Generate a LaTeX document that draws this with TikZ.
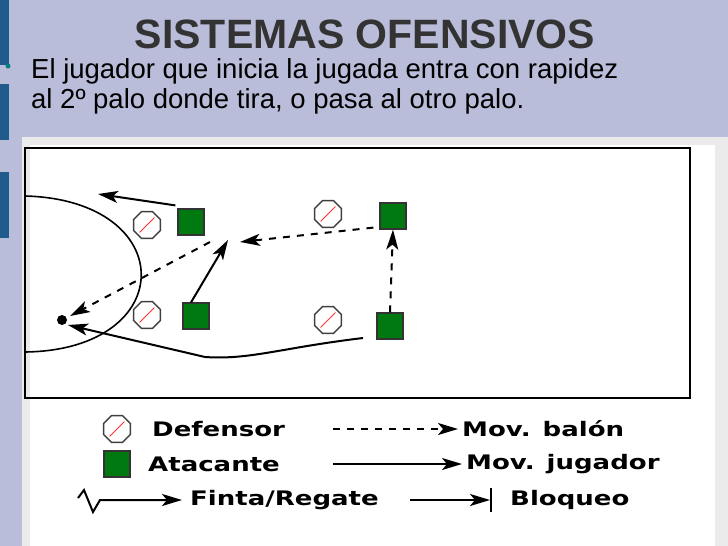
\documentclass[tikz,border=0pt]{standalone}
\usepackage{fontspec}
\setmainfont{Liberation Sans}
\newfontfamily\legfont{DejaVu Sans}
\usetikzlibrary{arrows.meta,shapes.geometric}
\definecolor{bg}{HTML}{B9BDD9}
\definecolor{barblue}{HTML}{1F5A8C}
\definecolor{grn}{HTML}{007A10}
\newcommand{\lgt}[1]{\scalebox{1.3}[1]{#1}}
\tikzset{
 ah/.style={-{Stealth[length=20pt,width=12pt,inset=5pt]}},
 mv/.style={line width=2pt,ah},
 bal/.style={line width=2pt,dash pattern=on 7pt off 7pt,ah},
 defn/.style={regular polygon,regular polygon sides=8,draw=black!75,line width=1.4pt,minimum size=29pt,inner sep=0pt,fill=white,
   path picture={\draw[red!80!white,line width=1pt] (path picture bounding box.south west)++(6pt,6pt) -- ([shift={(-6pt,-6pt)}]path picture bounding box.north east);}},
 att/.style={rectangle,draw=black!80,fill=grn,line width=1.2pt,minimum size=26pt,inner sep=0pt},
 lg/.style={font=\legfont\bfseries\fontsize{20}{22}\selectfont,anchor=west,inner sep=0pt}
}
\begin{document}
\begin{tikzpicture}[x=1pt,y=-1pt]
\fill[bg] (0,0) rectangle (728,546);
\useasboundingbox (0,0) rectangle (728,546);
\fill[barblue] (0,0) rectangle (9,65);
\fill[barblue] (0,84) rectangle (9,140);
\fill[barblue] (0,172) rectangle (9,238);
\fill[black!8] (22,137) rectangle (728,546);
\fill[white] (30,145) rectangle (715,546);
\node[font=\bfseries\fontsize{41}{44}\selectfont,text=black!80] (title) at (365,34) {SISTEMAS OFENSIVOS};
\fill[teal] (8,66) circle (2.5pt);
\node[anchor=west,font=\fontsize{27.5}{30}\selectfont,align=left,inner sep=0pt] (txt) at (31,86) {El jugador que inicia la jugada entra con rapidez\\al 2º palo donde tira, o pasa al otro palo.};
% court
\draw[line width=2pt] (25,148) rectangle (690,398);
\draw[line width=1.6pt] (25,196) .. controls (180,200) and (180,350) .. (25,352);
\node[defn] (d1) at (147,225) {};
\node[defn] (d2) at (147,315) {};
\node[defn] (d3) at (328,214) {};
\node[defn] (d4) at (328,320) {};
\node[att] (a1) at (191,222) {};
\node[att] (a2) at (196,316) {};
\node[att] (a3) at (393,216) {};
\node[att] (a4) at (390,326) {};
\fill (62,320) circle (5pt) coordinate (ball);
\coordinate (p1) at (98,194);
\coordinate (p2) at (228,240);
\path (a1.north west) ++(-2,-3) coordinate (s1);
\draw[mv] (s1) -- (p1);
\path (a3.south west) ++(-6,-2) coordinate (s3);
\draw[bal] (s3) -- (240,242);
\draw[bal] (a4.north) -- (a3.south);
\path (a2.north) ++(-5,0) coordinate (s2);
\draw[mv] (s2) -- (p2);
\path (p2) ++(-18,2) coordinate (s4);
\draw[bal] (s4) -- (70,316);
\draw[mv] (363,338) .. controls (280,348) and (250,360) .. (205,357) -- (68,325);
% legend
\node[defn] (ld) at (117,429) {};
\node[lg] (t1) at (152,429) {\lgt{Defensor}};
\coordinate (l1a) at (333,429); \coordinate (l1b) at (458,429);
\draw[bal] (l1a) -- (l1b);
\node[lg] (t2) at (462,429) {\lgt{Mov. balón}};
\node[att] (la) at (117,464) {};
\node[lg] (t3) at (148,464) {\lgt{Atacante}};
\coordinate (l2a) at (333,464); \coordinate (l2b) at (462,464);
\draw[mv] (l2a) -- (l2b);
\node[lg] (t4) at (466,464) {\lgt{Mov. jugador}};
\coordinate (z0) at (78,498);
\draw[mv] (z0) -- (84,490) -- (93,512) -- (100,500) -- (182,500);
\node[lg] (t5) at (190,500) {\lgt{Finta/Regate}};
\coordinate (l3a) at (410,500); \coordinate (l3b) at (490,500);
\draw[mv] (l3a) -- (l3b);
\draw[line width=2pt] (491,488) -- (491,512);
\node[lg] (t6) at (510,500) {\lgt{Bloqueo}};
\end{tikzpicture}
\end{document}
